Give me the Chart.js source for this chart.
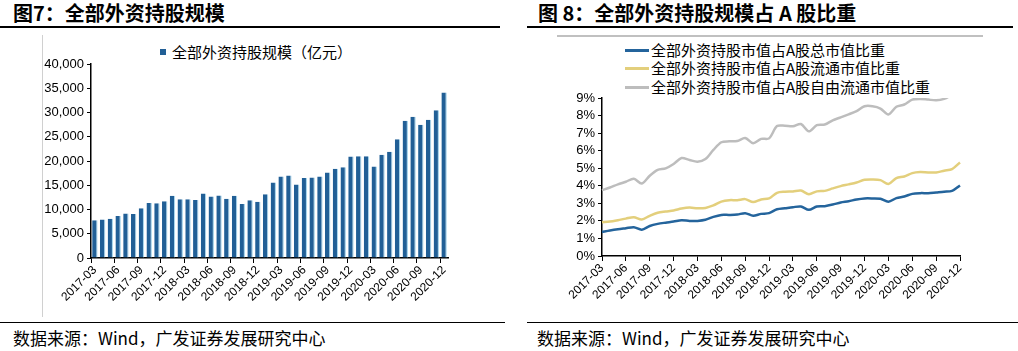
<!DOCTYPE html>
<html>
<head>
<meta charset="utf-8">
<script src="https://cdn.jsdelivr.net/npm/chart.js@4.4.1/dist/chart.umd.min.js"></script>
<style>
body { margin: 0; width: 1018px; height: 351px; background: #fff; position: relative; overflow: hidden; font-family: "Noto Sans CJK SC", sans-serif; color: #000; }
.abs { position: absolute; }
.title { top: 1px; font-size: 20px; line-height: 24px; font-weight: bold; white-space: nowrap; }
.rule { height: 2px; background: #000; }
.src { top: 328px; font-size: 17px; line-height: 20px; white-space: nowrap; }
.leg { font-size: 15px; line-height: 18px; white-space: nowrap; }
</style>
</head>
<body>
<div class="abs title" style="left:13px">图7：全部外资持股规模</div>
<div class="abs title" style="left:538px">图 8：全部外资持股规模占 A 股比重</div>
<div class="abs rule" style="left:0;top:26px;width:500px"></div>
<div class="abs rule" style="left:527px;top:26px;width:486px"></div>

<div class="abs" style="left:42px;top:35px;width:1px;height:282px;background:#d0d0d0"></div>
<div class="abs" style="left:557px;top:35px;width:426px;height:2px;background:#c0c0c0"></div>

<div id="leg1"></div>
<div id="leg2"></div>

<div class="abs" style="left:42px;top:36px;width:460px;height:284px"><canvas id="c1"></canvas></div>
<div class="abs" style="left:540px;top:36px;width:470px;height:284px"><canvas id="c2"></canvas></div>

<div class="abs" style="left:0;top:322px;width:505px;height:1px;background:#000"></div>
<div class="abs" style="left:527px;top:322px;width:491px;height:1px;background:#000"></div>
<div class="abs src" style="left:13px">数据来源：Wind，广发证券发展研究中心</div>
<div class="abs src" style="left:537px">数据来源：Wind，广发证券发展研究中心</div>

<script>
const months = [
  '2017-03','2017-04','2017-05','2017-06','2017-07','2017-08','2017-09','2017-10','2017-11','2017-12',
  '2018-01','2018-02','2018-03','2018-04','2018-05','2018-06','2018-07','2018-08','2018-09','2018-10','2018-11','2018-12',
  '2019-01','2019-02','2019-03','2019-04','2019-05','2019-06','2019-07','2019-08','2019-09','2019-10','2019-11','2019-12',
  '2020-01','2020-02','2020-03','2020-04','2020-05','2020-06','2020-07','2020-08','2020-09','2020-10','2020-11','2020-12'
];

// 图7 全部外资持股规模（亿元）
const holdingName = '全部外资持股规模（亿元）';
const holdings = [
  7800, 7950, 8100, 8650, 9200, 9050, 10250, 11350, 11300, 11700,
  12850, 12100, 12100, 11950, 13300, 12700, 12900, 12200, 12850, 11150, 11900, 11600,
  13150, 15550, 16800, 17000, 15150, 16500, 16600, 16800, 17650, 18400, 18700, 20950,
  21000, 21000, 18850, 21300, 21900, 24500, 28300, 29100, 27500, 28500, 30450, 34100
];
const holdingTicks = [0, 5000, 10000, 15000, 20000, 25000, 30000, 35000, 40000];

// 图8 占比（%）
const shareNames = [
  '全部外资持股市值占A股总市值比重',
  '全部外资持股市值占A股流通市值比重',
  '全部外资持股市值占A股自由流通市值比重'
];
const shareTotal = [
  1.37, 1.45, 1.52, 1.58, 1.64, 1.50, 1.71, 1.83, 1.90, 1.96,
  2.04, 2.00, 2.00, 2.06, 2.23, 2.34, 2.34, 2.36, 2.44, 2.29, 2.40, 2.44,
  2.66, 2.72, 2.78, 2.82, 2.63, 2.82, 2.84, 2.93, 3.05, 3.12, 3.22, 3.28,
  3.28, 3.26, 3.09, 3.30, 3.39, 3.54, 3.58, 3.58, 3.62, 3.66, 3.71, 4.02
];
const shareFloat = [
  1.92, 1.96, 2.04, 2.13, 2.21, 2.08, 2.29, 2.46, 2.53, 2.59,
  2.70, 2.76, 2.72, 2.74, 2.88, 3.10, 3.18, 3.18, 3.24, 3.07, 3.22, 3.28,
  3.60, 3.66, 3.68, 3.73, 3.52, 3.68, 3.71, 3.85, 3.98, 4.08, 4.19, 4.34,
  4.36, 4.32, 4.10, 4.44, 4.53, 4.72, 4.78, 4.76, 4.76, 4.86, 4.95, 5.33
];
const shareFreeFloat = [
  3.75, 3.90, 4.08, 4.23, 4.40, 4.13, 4.57, 4.90, 4.99, 5.24,
  5.58, 5.47, 5.37, 5.52, 6.04, 6.48, 6.53, 6.55, 6.72, 6.42, 6.67, 6.70,
  7.40, 7.42, 7.39, 7.52, 7.10, 7.45, 7.49, 7.73, 7.90, 8.07, 8.25, 8.53,
  8.53, 8.40, 8.06, 8.50, 8.63, 8.91, 8.95, 8.91, 8.87, 8.95, 9.20, 9.60
];
const shareTicks = [0, 1, 2, 3, 4, 5, 6, 7, 8, 9];

const barColor = '#215f96';
const lineColors = ['#24649c', '#e3cf7c', '#bdbdbd'];
const tickFont = { family: '"Liberation Sans", Arial, sans-serif', size: 13 };
const xFont = { family: '"Liberation Sans", Arial, sans-serif', size: 12 };

// legends
document.getElementById('leg1').innerHTML =
  `<div class="abs" style="left:160px;top:49px;width:6px;height:6px;background:${barColor}"></div>` +
  `<div class="abs leg" style="left:172px;top:43px">${holdingName}</div>`;
const legY = [50, 68, 87];
document.getElementById('leg2').innerHTML = shareNames.map((n, i) =>
  `<div class="abs" style="left:625px;top:${legY[i] - 1}px;width:24px;height:2.5px;background:${lineColors[i]}"></div>` +
  `<div class="abs leg" style="left:651px;top:${legY[i] - 9}px">${n}</div>`
).join('');

const everyThird = (ctx) => (ctx.index % 3 === 0 ? '#000' : 'rgba(0,0,0,0)');

new Chart(document.getElementById('c1'), {
  type: 'bar',
  data: {
    labels: months,
    datasets: [{
      label: holdingName,
      data: holdings,
      backgroundColor: barColor,
      borderColor: '#a9d6ec',
      borderWidth: { right: 1.2, left: 0, top: 0, bottom: 0 },
      borderSkipped: false,
      barPercentage: 0.7,
      categoryPercentage: 1.0
    }]
  },
  options: {
    animation: false,
    responsive: true,
    maintainAspectRatio: false,
    layout: { padding: { top: 28, right: 54, left: 0, bottom: 0 } },
    plugins: { legend: { display: false }, tooltip: { enabled: false } },
    scales: {
      x: {
        offset: true,
        afterFit: (s) => { s.height = 62; },
        grid: { offset: true, drawOnChartArea: false, drawTicks: true, tickLength: 5, color: everyThird },
        border: { display: true, color: '#000', width: 1.5 },
        ticks: {
          autoSkip: false, maxRotation: 45, minRotation: 45, padding: 0,
          color: '#000', font: xFont,
          callback: (v, i) => (i % 3 === 0 ? months[i] : '')
        }
      },
      y: {
        min: 0, max: 40000,
        afterFit: (s) => { s.width = 49; },
        afterBuildTicks: (s) => { s.ticks = holdingTicks.map(v => ({ value: v })); },
        grid: { drawOnChartArea: false, drawTicks: true, tickLength: 4, color: '#000' },
        border: { display: true, color: '#000', width: 1.5 },
        ticks: {
          autoSkip: false,
          color: '#000', font: tickFont, padding: 3,
          callback: (v) => v.toLocaleString('en-US')
        }
      }
    }
  }
});

new Chart(document.getElementById('c2'), {
  type: 'line',
  data: {
    labels: months,
    datasets: [shareTotal, shareFloat, shareFreeFloat].map((d, i) => ({
      label: shareNames[i],
      data: d,
      borderColor: lineColors[i],
      backgroundColor: lineColors[i],
      borderWidth: 2.5,
      pointRadius: 0,
      tension: 0.3,
      fill: false
    }))
  },
  options: {
    animation: false,
    responsive: true,
    maintainAspectRatio: false,
    layout: { padding: { top: 62, right: 50, left: 0, bottom: 0 } },
    plugins: { legend: { display: false }, tooltip: { enabled: false } },
    scales: {
      x: {
        offset: false,
        afterFit: (s) => { s.height = 64; },
        grid: { offset: false, drawOnChartArea: false, drawTicks: true, tickLength: 5, color: everyThird },
        border: { display: true, color: '#000', width: 1.5 },
        ticks: {
          autoSkip: false, maxRotation: 45, minRotation: 45, padding: 0,
          color: '#000', font: xFont,
          callback: (v, i) => (i % 3 === 0 ? months[i] : '')
        }
      },
      y: {
        min: 0, max: 9,
        afterFit: (s) => { s.width = 62; },
        afterBuildTicks: (s) => { s.ticks = shareTicks.map(v => ({ value: v })); },
        grid: { drawOnChartArea: false, drawTicks: true, tickLength: 4, color: '#000' },
        border: { display: true, color: '#000', width: 1.5 },
        ticks: {
          autoSkip: false,
          color: '#000', font: tickFont, padding: 3,
          callback: (v) => v + '%'
        }
      }
    }
  }
});
</script>
</body>
</html>
